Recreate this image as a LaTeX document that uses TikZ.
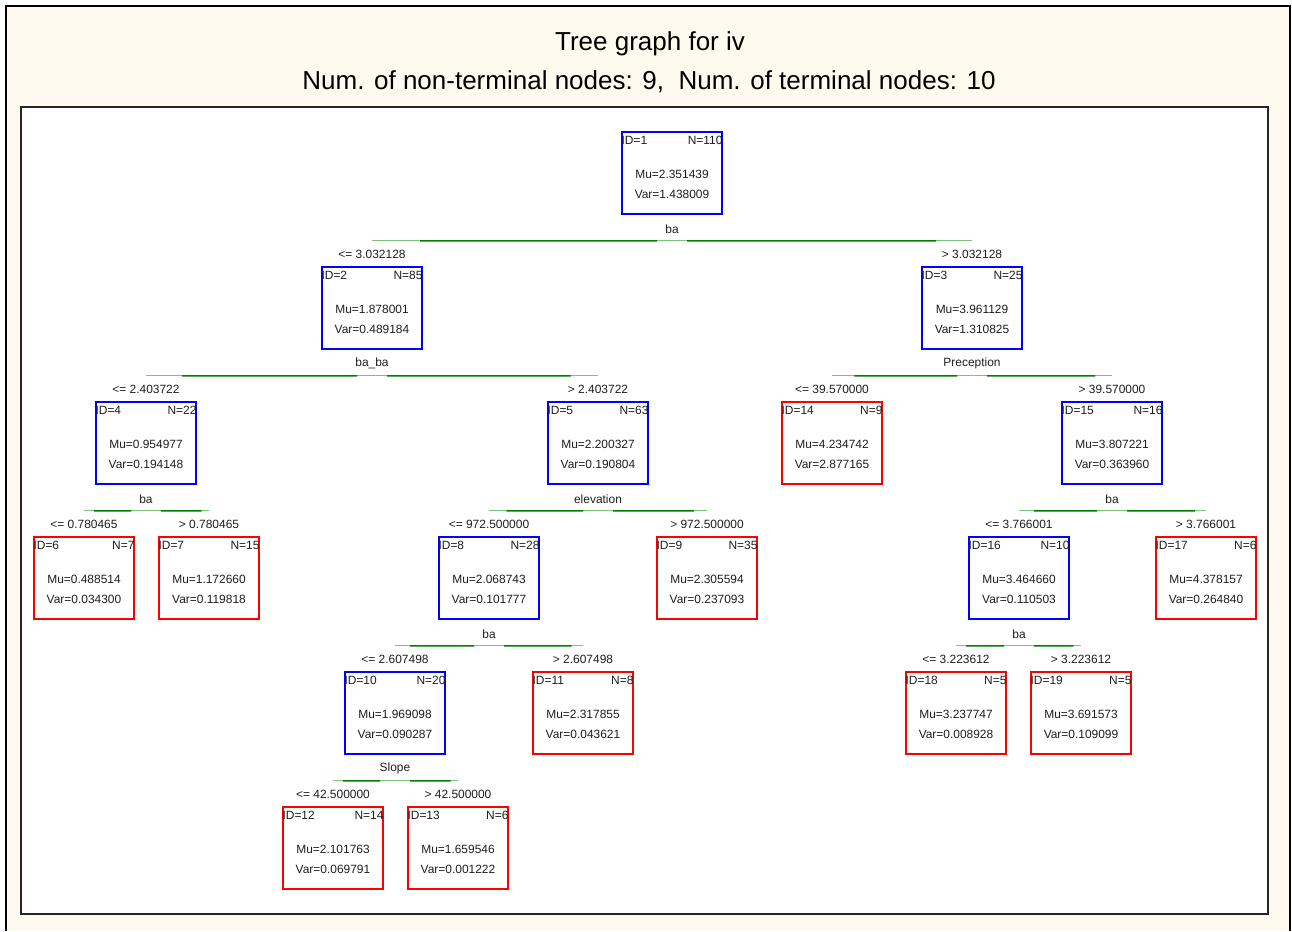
\documentclass[tikz,border=0pt]{standalone}
\usepackage{fontspec}
\setmainfont{Liberation Sans}
\usepackage{xcolor}
\usetikzlibrary{calc}
\definecolor{creme}{RGB}{255,250,239}
\definecolor{txt}{RGB}{30,30,30}
\definecolor{cutdark}{RGB}{0,128,0}
\definecolor{cutlight}{RGB}{125,195,125}
\tikzset{
    interno/.style  = {draw=blue, line width=0.9pt, minimum width=2cm, minimum height=1.64cm, inner sep=0pt},
    terminal/.style = {draw=red, line width=0.9pt, minimum width=2cm, minimum height=1.64cm, inner sep=0pt},
    info/.style     = {font=\fontsize{6.8}{8}\selectfont, text=txt, inner sep=0pt},
    cond/.style     = {font=\fontsize{6.8}{8}\selectfont, text=txt, inner sep=0pt},
    corte/.style    = {font=\fontsize{6.8}{8}\selectfont, text=txt, inner sep=0pt},
    ligclara/.style = {draw=cutlight, line width=0.6pt},
    ligescura/.style= {draw=cutdark, line width=0.9pt},
    titulo/.style   = {font=\fontsize{14.8}{17}\selectfont, text=black, inner sep=0pt},
}
% box with ID, N, Mu and Var
\newcommand{\treebox}[7]{%
    \node[#2] (#1) at (#3) {};
    \node[info, anchor=west] (#1-id) at ($(#1.north west)+(0,9)$) {ID=#4};
    \node[info, anchor=east] (#1-n) at ($(#1.north east)+(0,9)$) {N=#5};
    \node[info] (#1-mu) at ($(#1.center)+(0,1)$) {Mu=#6};
    \node[info] (#1-var) at ($(#1.center)+(0,21)$) {Var=#7};
}
% split of a parent into two children
\newcommand{\splitat}[5]{%
    \node[corte] (#1-split) at ($(#1.south)+(0,14)$) {#4};
    \coordinate (#1-cut) at ($(#1.south)+(0,26)$);
    \coordinate (#1-l) at (#2 |- #1-cut);
    \coordinate (#1-r) at (#3 |- #1-cut);
    \draw[ligclara] (#1-l) -- (#1-r);
    \draw[ligescura] ($(#1-l)!0.08!(#1-r)$) -- ($(#1-cut)+(-15,0)$);
    \draw[ligescura] ($(#1-cut)+(15,0)$) -- ($(#1-r)!0.06!(#1-l)$);
    \node[cond] (#2-cond) at ($(#2.north)+(0,-12)$) {<= #5};
    \node[cond] (#3-cond) at ($(#3.north)+(0,-12)$) {> #5};
}

\begin{document}
\begin{tikzpicture}[x=0.02cm, y=-0.02cm]
    \useasboundingbox (0,0) rectangle (1292,931);
    % frame
    \fill[white] (0,0) rectangle (1292,931);
    \fill[creme] (6,6) rectangle (1290,931);
    \draw[black, line width=1pt] (6,931) -- (6,6) -- (1290,6) -- (1290,931);
    \draw[black!85, fill=white, line width=1.1pt] (21,107) rectangle (1268,914);
    \node[titulo] (title) at (650,44) {Tree graph for iv};
    \node[titulo] (subtitle) at (649,82) {Num. of non-terminal nodes: 9,\ \ Num. of terminal nodes: 10};
    % nodes
    \treebox{n1}{interno}{672,173}{1}{110}{2.351439}{1.438009}
    \treebox{n2}{interno}{372,308}{2}{85}{1.878001}{0.489184}
    \treebox{n3}{interno}{972,308}{3}{25}{3.961129}{1.310825}
    \treebox{n4}{interno}{146,443}{4}{22}{0.954977}{0.194148}
    \treebox{n5}{interno}{598,443}{5}{63}{2.200327}{0.190804}
    \treebox{n14}{terminal}{832,443}{14}{9}{4.234742}{2.877165}
    \treebox{n15}{interno}{1112,443}{15}{16}{3.807221}{0.363960}
    \treebox{n6}{terminal}{84,578}{6}{7}{0.488514}{0.034300}
    \treebox{n7}{terminal}{209,578}{7}{15}{1.172660}{0.119818}
    \treebox{n8}{interno}{489,578}{8}{28}{2.068743}{0.101777}
    \treebox{n9}{terminal}{707,578}{9}{35}{2.305594}{0.237093}
    \treebox{n16}{interno}{1019,578}{16}{10}{3.464660}{0.110503}
    \treebox{n17}{terminal}{1206,578}{17}{6}{4.378157}{0.264840}
    \treebox{n10}{interno}{395,713}{10}{20}{1.969098}{0.090287}
    \treebox{n11}{terminal}{583,713}{11}{8}{2.317855}{0.043621}
    \treebox{n18}{terminal}{956,713}{18}{5}{3.237747}{0.008928}
    \treebox{n19}{terminal}{1081,713}{19}{5}{3.691573}{0.109099}
    \treebox{n12}{terminal}{333,848}{12}{14}{2.101763}{0.069791}
    \treebox{n13}{terminal}{458,848}{13}{6}{1.659546}{0.001222}
    % splits
    \splitat{n1}{n2}{n3}{ba}{3.032128}
    \splitat{n2}{n4}{n5}{ba\_ba}{2.403722}
    \splitat{n3}{n14}{n15}{Preception}{39.570000}
    \splitat{n4}{n6}{n7}{ba}{0.780465}
    \splitat{n5}{n8}{n9}{elevation}{972.500000}
    \splitat{n15}{n16}{n17}{ba}{3.766001}
    \splitat{n8}{n10}{n11}{ba}{2.607498}
    \splitat{n16}{n18}{n19}{ba}{3.223612}
    \splitat{n10}{n12}{n13}{Slope}{42.500000}
\end{tikzpicture}
\end{document}
